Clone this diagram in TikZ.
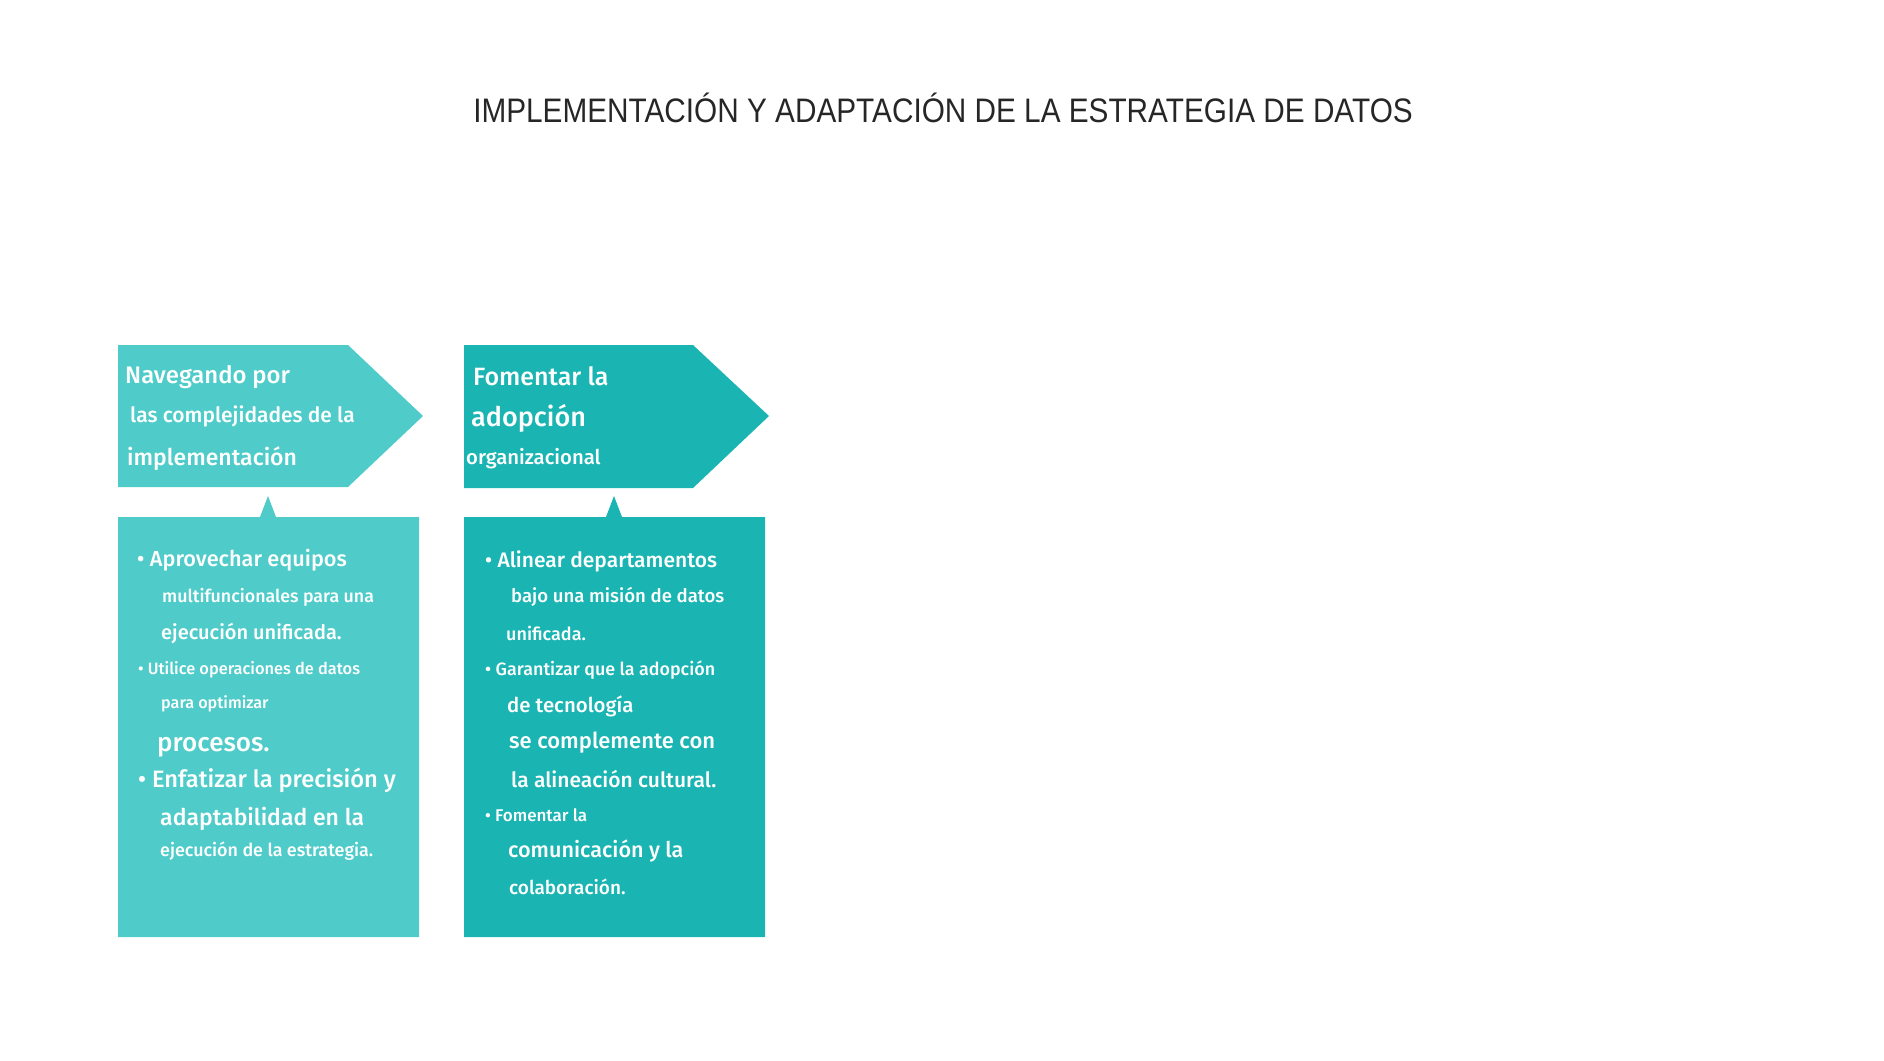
\documentclass[tikz,border=0pt]{standalone}
\usepackage{fontspec}
\setmainfont{Fira Sans}[BoldFont={Fira Sans Medium}]
\newfontfamily\titlefont[FakeStretch=0.875]{Liberation Sans}
\usetikzlibrary{positioning}
\definecolor{teal light}{HTML}{4FCCCA}
\definecolor{teal dark}{HTML}{1AB5B3}
\tikzset{
  line/.style={anchor=west, inner sep=0pt, text=white,
    font=\bfseries\fontsize{#1}{#1}\selectfont},
  line/.default=20
}

\begin{document}
\begin{tikzpicture}[x=1pt,y=-1pt]
  \useasboundingbox (0,0) rectangle (1884,1060);

  % title
  \node [font=\titlefont\fontsize{34}{34}\selectfont, text=black!85] (title)
    at (943,108) {IMPLEMENTACIÓN Y ADAPTACIÓN DE LA ESTRATEGIA DE DATOS};

  % left arrow head and body
  \fill [teal light]
    (118,345) -- (348,345) -- (423,416) -- (348,487) -- (118,487) -- cycle;
  \fill [teal light]
    (118,517) -- (260,517) -- (268,496) -- (276,517)
    -- (419,517) -- (419,937) -- (118,937) -- cycle;

  % right arrow head and body
  \fill [teal dark]
    (464,345) -- (693,345) -- (769,416) -- (693,488) -- (464,488) -- cycle;
  \fill [teal dark]
    (464,517) -- (606,517) -- (614,496) -- (622,517)
    -- (765,517) -- (765,937) -- (464,937) -- cycle;

  % left header
  \node [line=23.9] (nav 1) at (125,377) {Navegando por};
  \node [line=21] (nav 2) at (130,416) {las complejidades de la};
  \node [line=23] (nav 3) at (127,459) {implementación};

  % right header
  \node [line=25] (fom 1) at (473,376) {Fomentar la};
  \node [line=27] (fom 2) at (471,418) {adopción};
  \node [line=20.3] (fom 3) at (466,459) {organizacional};

  % left body
  \node [line=21.7] (apr 1) at (137,560) {• Aprovechar equipos};
  \node [line=17.8] (apr 2) at (162,597) {multifuncionales para una};
  \node [line=20] (apr 3) at (161,633) {ejecución unificada.};
  \node [line=16.4] (uti 1) at (138,670) {• Utilice operaciones de datos};
  \node [line=16.2] (uti 2) at (161,704) {para optimizar};
  \node [line=26] (uti 3) at (157,747) {procesos.};
  \node [line=23.7] (enf 1) at (138,780) {• Enfatizar la precisión y};
  \node [line=23] (enf 2) at (160,819) {adaptabilidad en la};
  \node [line=17.9] (enf 3) at (160,851) {ejecución de la estrategia.};

  % right body
  \node [line=21] (ali 1) at (485,561) {• Alinear departamentos};
  \node [line=18.6] (ali 2) at (511,597) {bajo una misión de datos};
  \node [line=18] (ali 3) at (506,633) {unificada.};
  \node [line=17.9] (gar 1) at (485,670) {• Garantizar que la adopción};
  \node [line=20.4] (gar 2) at (507,706) {de tecnología};
  \node [line=22] (gar 3) at (509,743) {se complemente con};
  \node [line=21] (gar 4) at (511,779) {la alineación cultural.};
  \node [line=17] (com 1) at (485,815) {• Fomentar la};
  \node [line=21.6] (com 2) at (508,851) {comunicación y la};
  \node [line=19] (com 3) at (509,887) {colaboración.};
\end{tikzpicture}
\end{document}
